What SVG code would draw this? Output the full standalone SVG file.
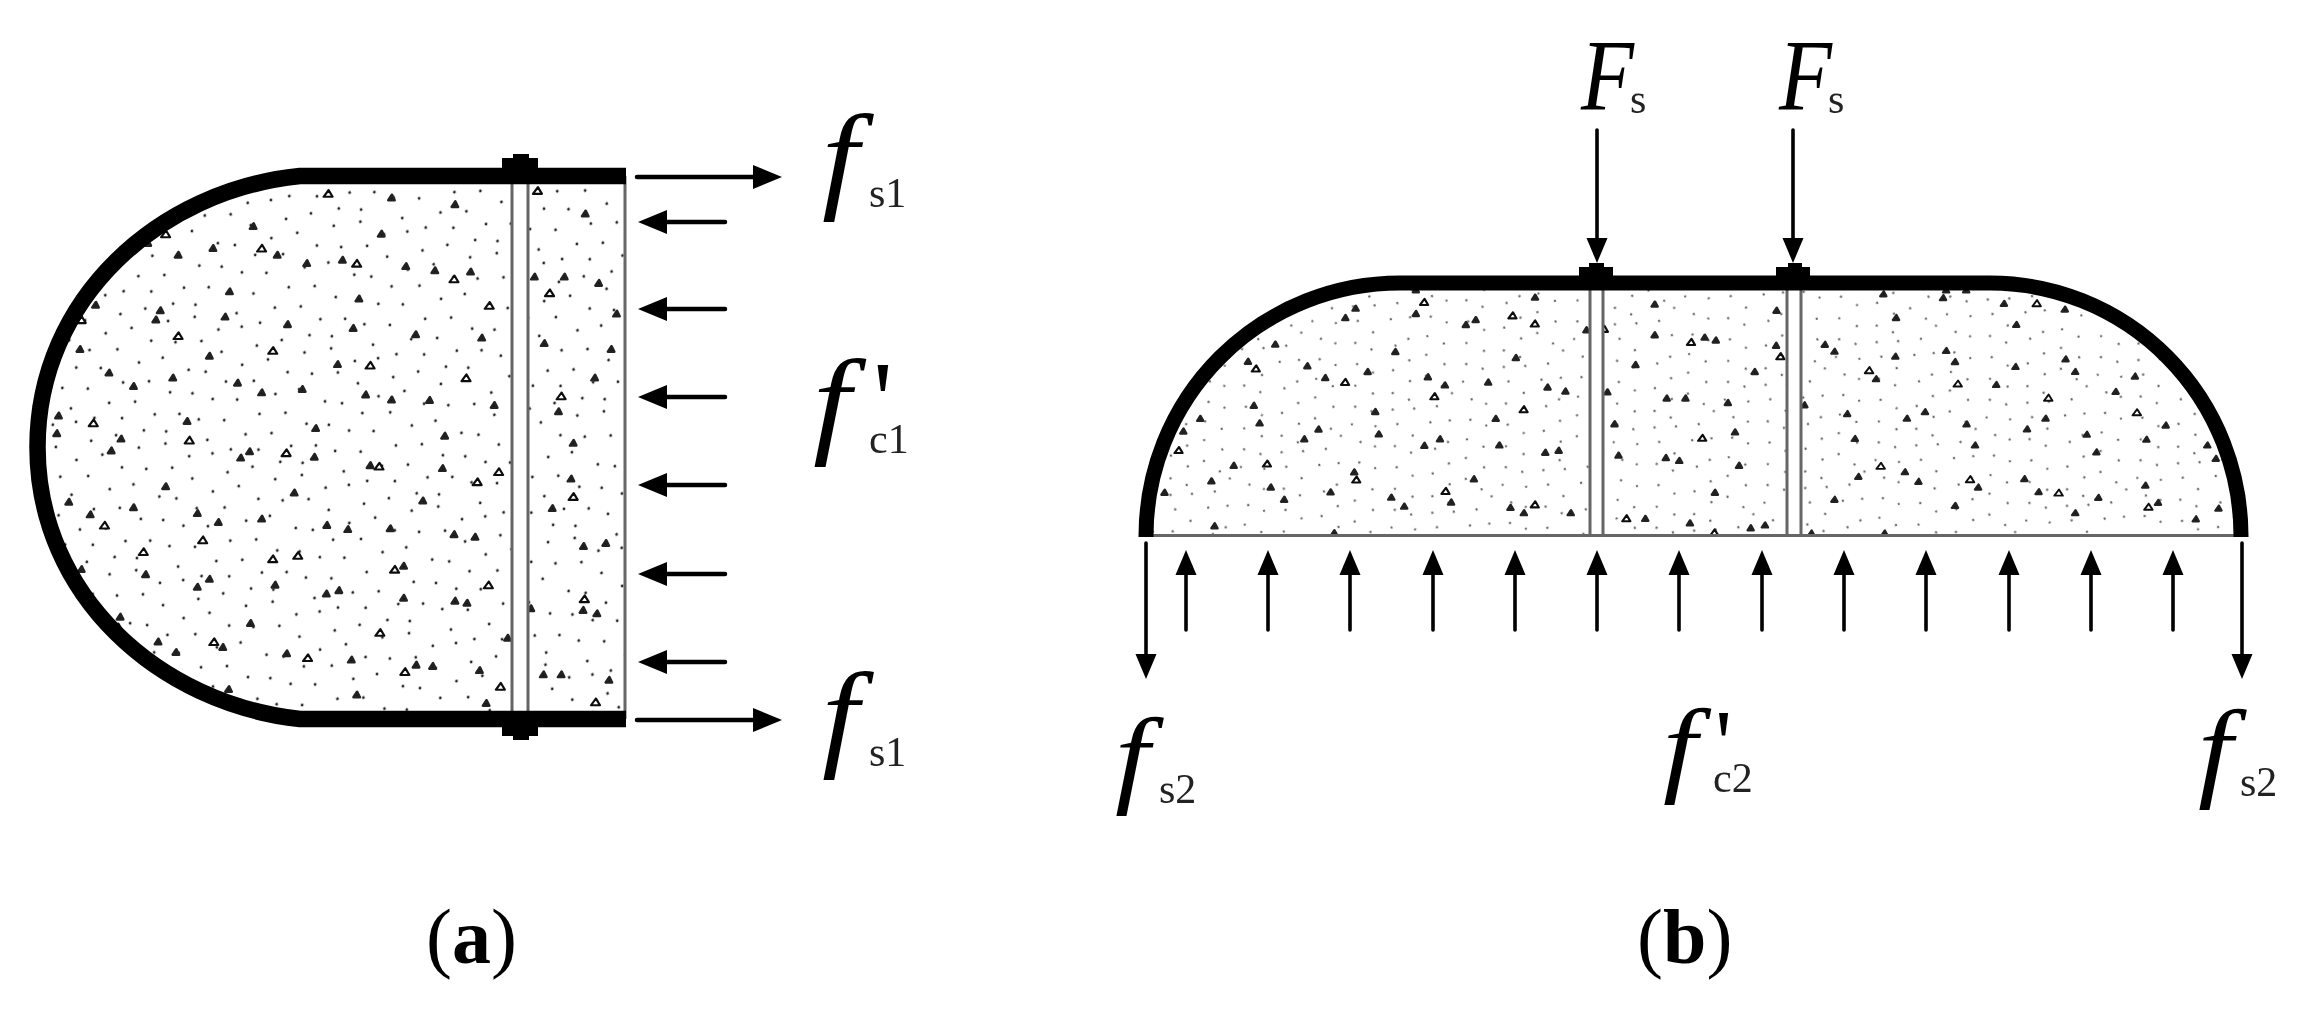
<svg xmlns="http://www.w3.org/2000/svg" width="2304" height="1011" viewBox="0 0 2304 1011">
<style>
#panel-a,#panel-b,#connectors,#labels{filter:url(#soft)}
text{font-family:"Liberation Serif","Times New Roman",serif;fill:#000}
.m{font-style:italic}
.s{font-size:42px;fill:#222}
.cap{font-size:78px}
.cap tspan{font-weight:bold}
.bar{fill:none;stroke:#000}
.thin{fill:none;stroke:#666;stroke-width:3}
.a1{stroke:#000;stroke-width:4.5;stroke-linecap:round;marker-end:url(#ha)}
.b1{stroke:#000;stroke-width:3.6;stroke-linecap:round;marker-end:url(#hb)}
.open{fill:#fff;stroke:#111;stroke-width:5;stroke-linejoin:round}
.sol{fill:#111;stroke:#222;stroke-width:6;stroke-linejoin:round}
</style>
<defs>
<filter id="soft" filterUnits="userSpaceOnUse" x="0" y="0" width="2304" height="1011"><feGaussianBlur stdDeviation="0.7"/></filter>
<marker id="ha" markerUnits="userSpaceOnUse" viewBox="0 -12 29 24" markerWidth="29" markerHeight="24" refX="0" refY="0" orient="auto"><path d="M0-12L29 0L0 12z"/></marker>
<marker id="hb" markerUnits="userSpaceOnUse" viewBox="0 -11 25 22" markerWidth="25" markerHeight="22" refX="0" refY="0" orient="auto"><path d="M0-10.500L25 0L0 10.500z"/></marker>
<pattern id="da" patternUnits="userSpaceOnUse" width="140" height="130" patternTransform="rotate(13)">
<path fill="none" stroke="#222" stroke-width="2.800" stroke-linecap="round" d="M7 12h0M29 4h0M48 19h0M71 8h0M96 15h0M121 5h0M133 27h0M15 33h0M38 41h0M62 30h0M84 38h0M108 34h0M4 56h0M26 61h0M53 54h0M77 62h0M99 52h0M127 58h0M17 81h0M41 76h0M66 85h0M91 78h0M114 84h0M136 80h0M8 104h0M33 99h0M57 108h0M82 101h0M104 109h0M128 103h0M21 122h0M46 126h0M73 120h0M97 127h0M119 123h0"/>
</pattern>
<pattern id="db" href="#da" patternTransform="rotate(-21) scale(.85)"/>
</defs>

<g id="panel-a">
<path id="concrete-a" fill="url(#da)" d="M625 176H300C160 190 37.500 298 37.500 447C37.500 596 160 704 300 719H625z"/>
<g transform="translate(0,100) scale(.4464,.4209)">
<path class="open" d="M736 214l-11 16h20zM1205 207l-11 16h20zM372 310l-11 16h20zM587 344l-11 16h20zM800 380l-11 16h20zM1018 417l-11 16h20zM1232 450l-11 16h20zM183 514l-11 16h20zM400 552l-11 16h20zM612 587l-11 16h20zM830 622l-11 16h20zM1045 652l-11 16h20zM1258 695l-11 16h20zM210 759l-11 16h20zM425 800l-11 16h20zM642 830l-11 16h20zM850 862l-11 16h20zM1070 899l-11 16h20zM1285 934l-11 16h20zM235 1002l-11 16h20zM455 1037l-11 16h20zM668 1074l-11 16h20zM885 1107l-11 16h20zM1095 1144l-11 16h20zM1310 1177l-11 16h20zM265 1244l-11 16h20zM480 1279l-11 16h20zM690 1317l-11 16h20zM908 1350l-11 16h20zM1122 1385l-11 16h20zM1335 1422l-11 16h20zM852 1257l-11 16h20zM322 1065l-11 16h20zM612 1082l-11 16h20zM1118 875l-11 16h20zM1097 480l-11 16h20z"/>
<path class="sol" d="M878 225l-8 13h14zM1020 241l-8 13h14zM1312 263l-8 13h14zM568 293l-8 13h14zM855 311l-8 13h14zM332 333l-8 13h14zM478 345l-8 13h14zM622 361l-8 13h14zM400 361l-8 13h14zM688 381l-8 13h14zM768 373l-8 13h14zM910 388l-8 13h14zM975 398l-8 13h14zM1055 401l-8 13h14zM1198 413l-8 13h14zM1265 413l-8 13h14zM1342 428l-8 13h14zM515 448l-8 13h14zM805 465l-8 13h14zM215 480l-8 13h14zM360 493l-8 13h14zM505 508l-8 13h14zM350 515l-8 13h14zM645 526l-8 13h14zM792 535l-8 13h14zM932 550l-8 13h14zM1080 558l-8 13h14zM1382 501l-8 13h14zM1220 571l-8 13h14zM180 585l-8 13h14zM470 601l-8 13h14zM1370 585l-8 13h14zM757 621l-8 13h14zM245 641l-8 13h14zM388 653l-8 13h14zM300 673l-8 13h14zM533 665l-8 13h14zM678 680l-8 13h14zM587 688l-8 13h14zM820 693l-8 13h14zM878 705l-8 13h14zM963 706l-8 13h14zM1108 718l-8 13h14zM1252 733l-8 13h14zM1333 653l-8 13h14zM132 743l-8 13h14zM128 785l-8 13h14zM420 756l-8 13h14zM708 773l-8 13h14zM272 798l-8 13h14zM250 826l-8 13h14zM997 791l-8 13h14zM1285 808l-8 13h14zM560 828l-8 13h14zM540 843l-8 13h14zM705 841l-8 13h14zM830 861l-8 13h14zM992 868l-8 13h14zM1280 893l-8 13h14zM372 911l-8 13h14zM660 926l-8 13h14zM155 948l-8 13h14zM948 945l-8 13h14zM300 961l-8 13h14zM1238 963l-8 13h14zM443 975l-8 13h14zM203 978l-8 13h14zM490 996l-8 13h14zM587 988l-8 13h14zM733 1003l-8 13h14zM780 1013l-8 13h14zM875 1011l-8 13h14zM1018 1025l-8 13h14zM1065 1031l-8 13h14zM1308 1053l-8 13h14zM1358 1046l-8 13h14zM905 1100l-8 13h14zM183 1108l-8 13h14zM327 1120l-8 13h14zM470 1131l-8 13h14zM443 1150l-8 13h14zM617 1145l-8 13h14zM760 1158l-8 13h14zM732 1166l-8 13h14zM905 1176l-8 13h14zM1020 1183l-8 13h14zM1047 1188l-8 13h14zM1307 1205l-8 13h14zM1338 1213l-8 13h14zM1190 1201l-8 13h14zM270 1221l-8 13h14zM562 1236l-8 13h14zM1138 1271l-8 13h14zM355 1280l-8 13h14zM500 1293l-8 13h14zM395 1305l-8 13h14zM643 1308l-8 13h14zM788 1323l-8 13h14zM933 1335l-8 13h14zM970 1338l-8 13h14zM1075 1348l-8 13h14zM1218 1358l-8 13h14zM1258 1358l-8 13h14zM1365 1371l-8 13h14zM513 1393l-8 13h14zM800 1406l-8 13h14zM1090 1426l-8 13h14z"/>
</g>
<rect x="513" y="183" width="14" height="528" fill="#fff"/>
<path class="thin" d="M512 183V711M528 183V711M625 176V719"/>
<path id="shell-a" class="bar" stroke-width="16.500" d="M626 176H300C160 190 37.500 298 37.500 447C37.500 596 160 704 300 719H626"/>
<path id="head-a-top" d="M502 168V158H513V154H529V158H538V168z"/>
<path id="head-a-bottom" d="M502 726V736H513V740H529V736H538V726z"/>
</g>

<g id="panel-b">
<path id="concrete-b" fill="url(#db)" fill-opacity=".7" d="M1146 536A254 253 0 0 1 1400 283H1990A251 253 0 0 1 2241 536z"/>
<g transform="translate(1100,40) scale(.4464,.4082)">
<path class="open" d="M727 634l-10 15h18zM925 667l-10 15h18zM975 687l-10 15h18zM350 797l-10 15h18zM550 830l-10 15h18zM750 865l-10 15h18zM950 897l-10 15h18zM1325 732l-10 15h18zM1525 767l-10 15h18zM177 997l-10 15h18zM375 1030l-10 15h18zM575 1069l-10 15h18zM775 1097l-10 15h18zM975 1130l-10 15h18zM1180 1164l-10 15h18zM1350 967l-10 15h18zM1130 700l-10 15h18zM1377 1199l-10 15h18z"/>
<path class="sol" d="M708 606l-7 12h13zM708 664l-7 12h13zM975 624l-7 12h13zM573 651l-7 12h13zM550 674l-7 12h13zM842 679l-7 12h13zM820 691l-7 12h13zM1090 704l-7 12h13zM393 739l-7 12h13zM1243 641l-7 12h13zM1516 656l-7 12h13zM1243 716l-7 12h13zM1355 722l-7 12h13zM1380 729l-7 12h13zM1515 742l-7 12h13zM662 757l-7 12h13zM332 781l-7 12h13zM465 792l-7 12h13zM505 821l-7 12h13zM600 806l-7 12h13zM735 819l-7 12h13zM773 839l-7 12h13zM870 832l-7 12h13zM932 772l-7 12h13zM1003 844l-7 12h13zM1043 854l-7 12h13zM1137 856l-7 12h13zM1200 789l-7 12h13zM1467 806l-7 12h13zM1270 871l-7 12h13zM1312 871l-7 12h13zM1407 882l-7 12h13zM345 889l-7 12h13zM617 904l-7 12h13zM887 921l-7 12h13zM225 921l-7 12h13zM358 932l-7 12h13zM187 952l-7 12h13zM1153 934l-7 12h13zM490 947l-7 12h13zM458 971l-7 12h13zM625 959l-7 12h13zM762 971l-7 12h13zM1423 954l-7 12h13zM727 987l-7 12h13zM895 986l-7 12h13zM998 1004l-7 12h13zM1028 999l-7 12h13zM1162 1011l-7 12h13zM1268 1017l-7 12h13zM1298 1024l-7 12h13zM300 1036l-7 12h13zM1432 1036l-7 12h13zM570 1052l-7 12h13zM250 1074l-7 12h13zM838 1069l-7 12h13zM383 1089l-7 12h13zM145 1102l-7 12h13zM517 1101l-7 12h13zM1378 1102l-7 12h13zM787 1126l-7 12h13zM653 1114l-7 12h13zM413 1119l-7 12h13zM682 1136l-7 12h13zM920 1139l-7 12h13zM950 1152l-7 12h13zM1055 1152l-7 12h13zM1222 1166l-7 12h13zM1322 1177l-7 12h13zM257 1184l-7 12h13zM1458 1189l-7 12h13zM1490 1182l-7 12h13zM525 1201l-7 12h13z"/>
</g>
<g transform="translate(1700,240) scale(.3852,.3827)">
<path class="open" d="M440 332l-12 16h22zM670 367l-12 16h22zM905 404l-12 16h22zM1135 442l-12 16h22zM702 617l-12 16h22zM932 652l-12 16h22zM1165 689l-12 16h22zM470 582l-12 16h22zM875 157l-12 16h22z"/>
<path class="sol" d="M477 134l-9 13h16zM632 144l-9 13h16zM640 124l-9 13h16zM692 124l-9 13h16zM790 159l-9 13h16zM948 174l-9 13h16zM510 196l-9 13h16zM822 214l-9 13h16zM325 266l-9 13h16zM350 284l-9 13h16zM508 297l-9 13h16zM640 282l-9 13h16zM663 311l-9 13h16zM950 304l-9 13h16zM820 324l-9 13h16zM975 337l-9 13h16zM458 356l-9 13h16zM1130 349l-9 13h16zM770 371l-9 13h16zM1080 389l-9 13h16zM272 424l-9 13h16zM383 447l-9 13h16zM538 459l-9 13h16zM585 442l-9 13h16zM898 459l-9 13h16zM693 474l-9 13h16zM850 487l-9 13h16zM1210 477l-9 13h16zM1005 501l-9 13h16zM1160 514l-9 13h16zM403 512l-9 13h16zM715 529l-9 13h16zM1318 529l-9 13h16zM1030 547l-9 13h16zM1340 564l-9 13h16zM412 611l-9 13h16zM533 599l-9 13h16zM568 624l-9 13h16zM723 639l-9 13h16zM843 617l-9 13h16zM880 651l-9 13h16zM1157 634l-9 13h16zM350 671l-9 13h16zM1035 666l-9 13h16zM663 687l-9 13h16zM1190 679l-9 13h16zM1347 694l-9 13h16zM975 706l-9 13h16zM1288 722l-9 13h16zM290 759l-9 13h16zM480 759l-9 13h16z"/>
</g>
<rect x="1591" y="290" width="11" height="244" fill="#fff"/>
<rect x="1788" y="290" width="12" height="244" fill="#fff"/>
<path class="thin" d="M1590 290V535M1603 290V535M1787 290V535M1801 290V535M1146 535.500H2241"/>
<path id="shell-b" class="bar" stroke-width="15" d="M1146 537V536A254 253 0 0 1 1400 283H1990A251 253 0 0 1 2241 536V537"/>
<path id="head-b-1" d="M1579 276V267H1589V263H1604V267H1613V276z"/>
<path id="head-b-2" d="M1776 276V267H1788V263H1802V267H1810V276z"/>
</g>

<g id="connectors">
<g id="arrows-a">
<line class="a1" x1="637" y1="177" x2="753" y2="177"/>
<line class="a1" x1="637" y1="720" x2="753" y2="720"/>
<line class="a1" x1="725" y1="222" x2="667" y2="222"/>
<line class="a1" x1="725" y1="309" x2="667" y2="309"/>
<line class="a1" x1="725" y1="397" x2="667" y2="397"/>
<line class="a1" x1="725" y1="485" x2="667" y2="485"/>
<line class="a1" x1="725" y1="574" x2="667" y2="574"/>
<line class="a1" x1="725" y1="662" x2="667" y2="662"/>
</g>
<g id="arrows-b">
<line class="b1" x1="1597" y1="130" x2="1597" y2="238"/>
<line class="b1" x1="1793" y1="130" x2="1793" y2="238"/>
<line class="b1" x1="1146" y1="543" x2="1146" y2="654"/>
<line class="b1" x1="2242" y1="543" x2="2242" y2="654"/>
<line class="b1" x1="1186" y1="630" x2="1186" y2="575"/>
<line class="b1" x1="1268" y1="630" x2="1268" y2="575"/>
<line class="b1" x1="1350" y1="630" x2="1350" y2="575"/>
<line class="b1" x1="1433" y1="630" x2="1433" y2="575"/>
<line class="b1" x1="1515" y1="630" x2="1515" y2="575"/>
<line class="b1" x1="1597" y1="630" x2="1597" y2="575"/>
<line class="b1" x1="1679" y1="630" x2="1679" y2="575"/>
<line class="b1" x1="1762" y1="630" x2="1762" y2="575"/>
<line class="b1" x1="1844" y1="630" x2="1844" y2="575"/>
<line class="b1" x1="1926" y1="630" x2="1926" y2="575"/>
<line class="b1" x1="2009" y1="630" x2="2009" y2="575"/>
<line class="b1" x1="2091" y1="630" x2="2091" y2="575"/>
<line class="b1" x1="2173" y1="630" x2="2173" y2="575"/>
</g>
</g>

<g id="labels">
<text class="m" font-size="118" transform="translate(822,197) scale(1.12,1)">f</text>
<text class="s" x="869" y="207">s1</text>
<text class="m" font-size="118" transform="translate(813,442) scale(1.15,1)">f</text>
<text font-size="110" x="873" y="437">'</text>
<text class="s" x="869" y="453">c1</text>
<text class="m" font-size="118" transform="translate(822,755) scale(1.12,1)">f</text>
<text class="s" x="869" y="766">s1</text>
<text class="m" font-size="102" transform="translate(1581,110) scale(.85,1)">F</text>
<text class="s" x="1630" y="113">s</text>
<text class="m" font-size="102" transform="translate(1779,110) scale(.85,1)">F</text>
<text class="s" x="1828" y="113">s</text>
<text class="m" font-size="109" transform="translate(1115,793) scale(1.14,1)">f</text>
<text class="s" x="1159" y="803">s2</text>
<text class="m" font-size="106" transform="translate(1663,782) scale(1.16,1)">f</text>
<text font-size="95" x="1715" y="776">'</text>
<text class="s" x="1713" y="792">c2</text>
<text class="m" font-size="110" transform="translate(2198,787) scale(1.13,1)">f</text>
<text class="s" x="2240" y="796">s2</text>
<text class="cap" x="426" y="963">(<tspan>a</tspan>)</text>
<text class="cap" x="1637" y="963">(<tspan>b</tspan>)</text>
</g>
</svg>
